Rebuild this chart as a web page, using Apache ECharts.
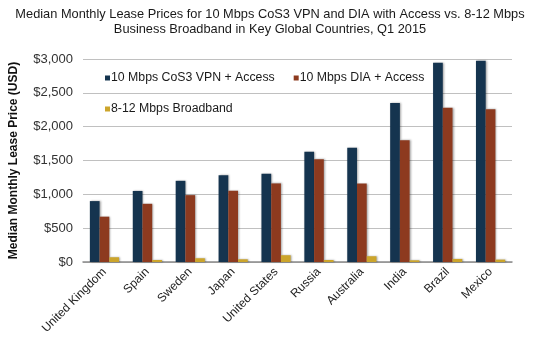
<!DOCTYPE html>
<html>
<head>
<meta charset="utf-8">
<script src="https://cdn.jsdelivr.net/npm/echarts@6/dist/echarts.min.js"></script>
<style>
  html, body { margin: 0; padding: 0; background: #fff; }
  #chart { width: 540px; height: 349px; }
</style>
</head>
<body>
<div id="chart"></div>
<script>
// Countries along the x axis
const countries = ['United Kingdom', 'Spain', 'Sweden', 'Japan', 'United States',
                   'Russia', 'Australia', 'India', 'Brazil', 'Mexico'];

// Median monthly lease prices, USD
const vpnAccess = [900, 1050, 1200, 1283, 1304, 1630, 1690, 2350, 2945, 2975];
const diaAccess = [670, 860, 988, 1053, 1161, 1520, 1160, 1798, 2278, 2258];
const broadband = [70, 30, 55, 40, 100, 30, 85, 25, 45, 35];

const seriesNames = ['10 Mbps CoS3 VPN + Access', '10 Mbps DIA + Access', '8-12 Mbps Broadband'];
const seriesColors = ['#15344f', '#8d3a1f', '#cca52b'];

const yTicks = { min: 0, max: 3000, interval: 500 };

const chart = echarts.init(document.getElementById('chart'), null, { renderer: 'canvas' });

const font = 'Liberation Sans, Arial, Helvetica, sans-serif';

function barSeries(name, data, color) {
  return {
    name: name,
    type: 'bar',
    data: data,
    barGap: '0%',
    barCategoryGap: '32%',
    itemStyle: {
      color: color,
      shadowColor: 'rgba(0,0,0,0.35)',
      shadowBlur: 2,
      shadowOffsetX: 1,
      shadowOffsetY: 0
    }
  };
}

const legendText = { fontFamily: font, fontSize: 12.3, color: '#1a1a1a', padding: [0, 0, 0, -4] };

chart.setOption({
  animation: false,
  color: seriesColors,
  title: {
    text: 'Median Monthly Lease Prices for 10 Mbps CoS3 VPN and DIA with Access vs. 8-12 Mbps\nBusiness Broadband in Key Global Countries, Q1 2015',
    left: 'center',
    top: 2,
    textStyle: {
      fontFamily: font,
      fontSize: 12.8,
      fontWeight: 'normal',
      color: '#1a1a1a',
      lineHeight: 15
    }
  },
  legend: [
    {
      data: [seriesNames[0], seriesNames[1]],
      left: 100,
      top: 67,
      itemWidth: 5,
      itemHeight: 5,
      itemGap: 19,
      icon: 'rect',
      textStyle: legendText
    },
    {
      data: [seriesNames[2]],
      left: 100,
      top: 98,
      itemWidth: 5,
      itemHeight: 5,
      icon: 'rect',
      textStyle: legendText
    }
  ],
  grid: {
    left: 83,
    right: 28,
    top: 59,
    bottom: 87,
    containLabel: false
  },
  xAxis: {
    type: 'category',
    data: countries,
    axisLine: { lineStyle: { color: '#8a8a8a', width: 1.5 } },
    axisTick: { show: false },
    axisLabel: {
      rotate: 45,
      interval: 0,
      fontFamily: font,
      fontSize: 12,
      color: '#222',
      margin: 8
    }
  },
  yAxis: {
    type: 'value',
    min: yTicks.min,
    max: yTicks.max,
    interval: yTicks.interval,
    name: 'Median Monthly Lease Price (USD)',
    nameLocation: 'middle',
    nameGap: 63,
    nameTextStyle: {
      fontFamily: font,
      fontSize: 12,
      fontWeight: 'bold',
      color: '#111'
    },
    axisLine: { show: false },
    axisTick: { show: false },
    axisLabel: {
      fontFamily: font,
      fontSize: 13,
      color: '#333',
      margin: 10,
      formatter: function (v) {
        return '$' + v.toLocaleString('en-US');
      }
    },
    splitLine: { lineStyle: { color: '#c0c0c0', width: 1 } }
  },
  series: [
    barSeries(seriesNames[0], vpnAccess, seriesColors[0]),
    barSeries(seriesNames[1], diaAccess, seriesColors[1]),
    barSeries(seriesNames[2], broadband, seriesColors[2])
  ]
});
</script>
</body>
</html>
